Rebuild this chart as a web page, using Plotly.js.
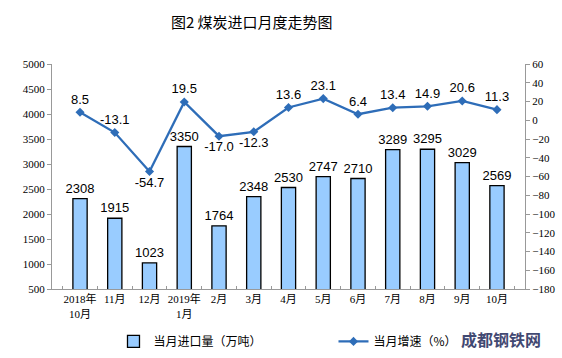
<!DOCTYPE html>
<html><head><meta charset="utf-8">
<script src="https://cdn.plot.ly/plotly-3.0.1.min.js"></script>
<style>html,body{margin:0;padding:0;background:#fff}#chart{width:562px;height:358px}</style>
</head><body><div id="chart"></div>
<script>
const categories = ["2018年<br>10月","11月","12月","2019年<br>1月","2月","3月","4月","5月","6月","7月","8月","9月","10月"];
const importVolume = [2308,1915,1023,3350,1764,2348,2530,2747,2710,3289,3295,3029,2569];
const growthRate = [8.5,-13.1,-54.7,19.5,-17.0,-12.3,13.6,23.1,6.4,13.4,14.9,20.6,11.3];
const growthLabelPos = ["top center","top center","bottom center","top center","bottom center","bottom center","top center","top center","top center","top center","top center","top center","top center"];

const bars = {
  type:"bar", name:"当月进口量（万吨）", x:categories, y:importVolume,
  width:0.41,
  marker:{color:"#99CCFF", line:{color:"#000", width:1.3}},
  text:importVolume.map(String), textposition:"outside", cliponaxis:false, constraintext:"none",
  textfont:{family:"Liberation Sans, Arial", size:13, color:"#000"},
  yaxis:"y"
};
const line = {
  type:"scatter", mode:"lines+markers+text", name:"当月增速（%）", x:categories, y:growthRate,
  yaxis:"y2",
  line:{color:"#2E6DB8", width:2.3},
  marker:{symbol:"diamond", size:7, color:"#2E6DB8"},
  text:growthRate.map(v=>v.toFixed(1)), textposition:growthLabelPos, cliponaxis:false,
  textfont:{family:"Liberation Sans, Arial", size:13, color:"#000"}
};
const tickFont = {family:"Liberation Serif, Times New Roman, Noto Sans CJK SC", size:11, color:"#000"};
const layout = {
  width:562, height:358,
  margin:{l:52, r:37, t:64, b:69, autoexpand:false},
  paper_bgcolor:"#fff", plot_bgcolor:"#fff",
  showlegend:true,
  title:{text:"图2&nbsp;煤炭进口月度走势图", x:0.448, xanchor:"center", y:0.936, yanchor:"middle",
         font:{family:"Noto Sans CJK SC", size:15, color:"#000", weight:400}},
  xaxis:{type:"category", showline:true, linecolor:"#999", linewidth:1, ticks:"inside", tickson:"boundaries",
         ticklen:3, tickcolor:"#999", tickfont:tickFont, showgrid:false, zeroline:false, tickangle:0, automargin:false},
  yaxis:{range:[500,5000], dtick:500, showline:true, linecolor:"#999", linewidth:1, ticks:"outside",
         ticklen:4, tickcolor:"#999", tickfont:tickFont, showgrid:false, zeroline:false, automargin:false},
  yaxis2:{range:[-180,60], dtick:20, overlaying:"y", side:"right", showline:true, linecolor:"#999", linewidth:1,
          ticks:"outside", ticklen:4, tickcolor:"#999", tickfont:tickFont, showgrid:false, zeroline:false, automargin:false},
  legend:{orientation:"h", x:0.13, xanchor:"left", y:-0.233, yanchor:"middle",
          font:{family:"Noto Sans CJK SC", size:12, color:"#000"}, entrywidth:175, itemwidth:30},
  annotations:[{xref:"paper", yref:"paper", x:0.86, y:-0.22, xanchor:"left", yanchor:"middle", showarrow:false,
    text:"<b>成都钢铁网</b>", font:{family:"Noto Sans CJK SC", size:16, color:"#1F2A5A"}, opacity:0.85}]
};
Plotly.newPlot("chart",[bars,line],layout,{displayModeBar:false,staticPlot:true});
</script></body></html>
